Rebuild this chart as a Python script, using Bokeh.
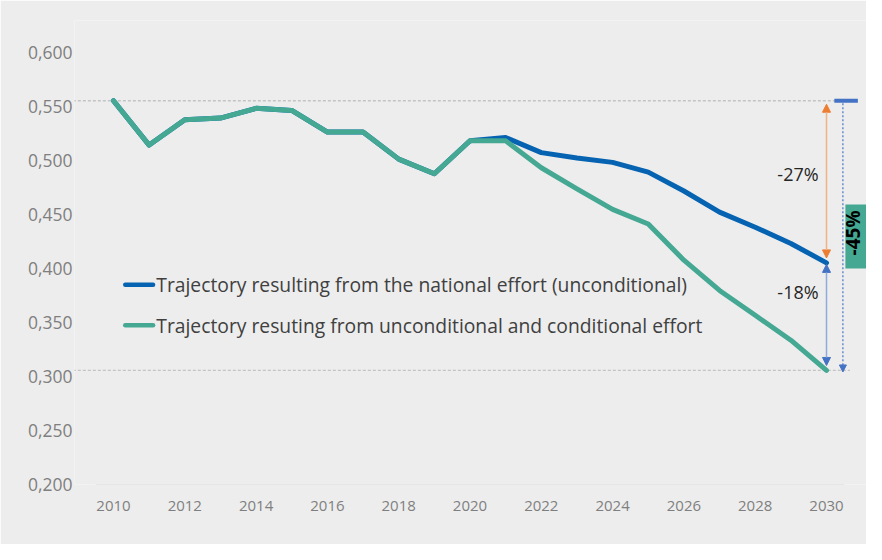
from bokeh.plotting import figure
from bokeh.models import (FixedTicker, CustomJSTickFormatter, Arrow, NormalHead)
from bokeh.core.properties import value
from bokeh.embed import file_html
from bokeh.resources import INLINE
import math

# ---------------- data ----------------
years = list(range(2010, 2031))
national = [0.555, 0.514, 0.5375, 0.539, 0.548, 0.546, 0.526, 0.526, 0.501, 0.4875,
            0.518, 0.521, 0.507, 0.502, 0.498, 0.489, 0.4715, 0.452, 0.438, 0.423, 0.405]
conditional = [0.555, 0.514, 0.5375, 0.539, 0.548, 0.546, 0.526, 0.526, 0.501, 0.4875,
               0.518, 0.518, 0.493, 0.4735, 0.4545, 0.441, 0.4075, 0.3795, 0.3565, 0.3335, 0.3055]
series_names = ["Trajectory resulting from the national effort (unconditional)",
                "Trajectory resuting from unconditional and conditional effort"]
x_ticks = list(range(2010, 2031, 2))
y_ticks = [0.2, 0.25, 0.3, 0.35, 0.4, 0.45, 0.5, 0.55, 0.6]
change_labels = ["-27%", "-18%", "-45%"]

BLUE = "#0563B1"
GREEN = "#45A893"
BG = "#EDEDED"
FONT = "Open Sans"

PX = 1081.0  # pixels per unit on y (for small annotation offsets)

p = figure(width=866, height=544, output_backend="svg", toolbar_location=None,
           x_range=(2008.906, 2031.122), y_range=(0.2, 0.2 + 464 / PX),
           min_border_left=74, min_border_right=0, min_border_top=20, min_border_bottom=60,
           background_fill_color=BG, border_fill_color=BG)
p.outline_line_color = None
p.xgrid.visible = False
p.ygrid.visible = False

# axes
p.xaxis.ticker = FixedTicker(ticks=x_ticks)
p.xaxis.axis_line_color = None
p.xaxis.major_tick_line_color = None
p.xaxis.minor_tick_line_color = None
p.xaxis.major_tick_out = 0
p.xaxis.major_label_standoff = 16
p.xaxis.major_label_text_font = FONT
p.xaxis.major_label_text_font_size = "15px"
p.xaxis.major_label_text_color = "#7F7F7F"

p.yaxis.ticker = FixedTicker(ticks=y_ticks)
p.yaxis.formatter = CustomJSTickFormatter(code="return tick.toFixed(3).replace('.', ',');")
p.yaxis.axis_line_color = None
p.yaxis.major_tick_line_color = None
p.yaxis.minor_tick_line_color = None
p.yaxis.major_tick_out = 0
p.yaxis.major_label_standoff = 2
p.yaxis.major_label_text_font = FONT
p.yaxis.major_label_text_font_size = "17.5px"
p.yaxis.major_label_text_color = "#7F7F7F"

# x baseline
p.segment(x0=[2009.5], y0=[0.2], x1=[2030.5], y1=[0.2], line_color="#D9D9D9", line_width=1.2)

top_v = conditional[0]
end_nat = national[-1]
end_cond = conditional[-1]

# dotted reference lines
p.segment(x0=[2008.86, 2008.86], y0=[top_v, end_cond], x1=[2030.28, 2030.66], y1=[top_v, end_cond],
          line_color="#C4C4C4", line_width=1.3, line_dash="3 2")

# series
p.line(years, national, line_color=BLUE, line_width=5, line_join="round", line_cap="round")
p.line(years, conditional, line_color=GREEN, line_width=5, line_join="round", line_cap="round")

# legend (drawn manually)
p.segment(x0=[2010.33, 2010.33], y0=[0.3848, 0.3473], x1=[2011.11, 2011.11], y1=[0.3848, 0.3473],
          line_color=[BLUE, GREEN], line_width=4.5, line_cap="round")
p.text(x=[2011.2, 2011.2], y=[0.3848, 0.3473], text=series_names,
       text_font=value(FONT), text_font_size="19.3px", text_color="#404040",
       text_baseline="middle", text_align="left")

# arrows
p.add_layout(Arrow(x_start=2030, y_start=top_v - 3.5 / PX, x_end=2030, y_end=end_nat + 5 / PX,
                   line_color="#F4B183", line_width=1.5,
                   start=NormalHead(size=8, fill_color="#ED7D31", line_color="#ED7D31", line_width=1),
                   end=NormalHead(size=8, fill_color="#ED7D31", line_color="#ED7D31", line_width=1)))
p.add_layout(Arrow(x_start=2030, y_start=end_nat - 1.5 / PX, x_end=2030, y_end=end_cond + 5 / PX,
                   line_color="#8FAADC", line_width=1.5,
                   start=NormalHead(size=8, fill_color="#4472C4", line_color="#4472C4", line_width=1),
                   end=NormalHead(size=8, fill_color="#4472C4", line_color="#4472C4", line_width=1)))
p.add_layout(Arrow(x_start=2030.46, y_start=top_v - 2.5 / PX, x_end=2030.46, y_end=end_cond - 1.5 / PX,
                   line_color="#4472C4", line_width=1.2, line_dash="2 2",
                   start=None,
                   end=NormalHead(size=7, fill_color="#4472C4", line_color="#4472C4", line_width=1)))

# blue cap at top
p.segment(x0=[2030.22], y0=[top_v], x1=[2030.88], y1=[top_v], line_color="#4472C4", line_width=4)

# -45% box
p.quad(left=[2030.53], right=[2031.3], bottom=[0.3997], top=[0.4591],
       fill_color=GREEN, line_color=None)
p.text(x=[2030.73], y=[0.4327], text=[change_labels[2]], angle=math.pi / 2,
       text_font=value(FONT), text_font_size="19px", text_font_style="bold",
       text_color="#000000", text_align="center", text_baseline="middle")

# -27% / -18% labels
p.text(x=[2029.2, 2029.2], y=[0.4872, 0.3781], text=change_labels[:2],
       text_font=value(FONT), text_font_size="18px", text_color="#262626",
       text_align="center", text_baseline="middle")

open("out.html", "w").write(file_html(p, INLINE))
